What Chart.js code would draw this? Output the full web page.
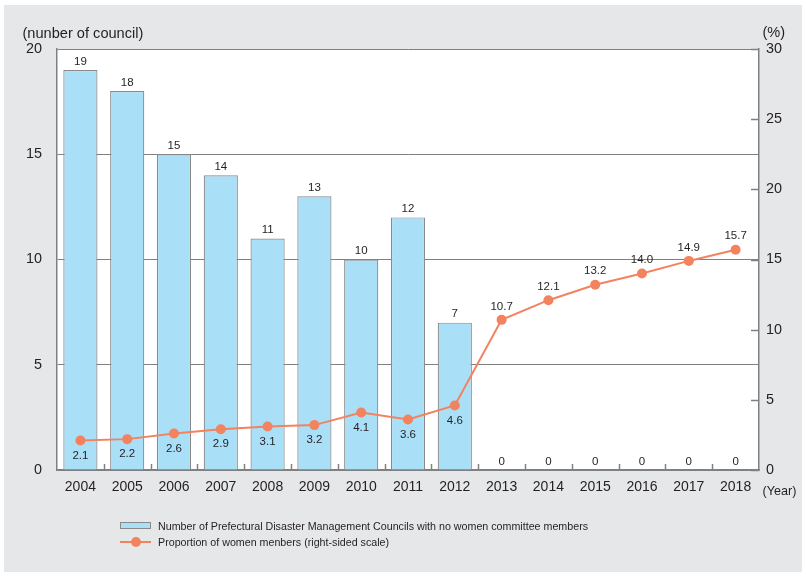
<!DOCTYPE html>
<html>
<head>
<meta charset="utf-8">
<script src="https://cdn.jsdelivr.net/npm/chart.js@4"></script>
<style>
  html, body { margin: 0; padding: 0; background: #ffffff; }
  #frame { position: absolute; left: 4px; top: 5px; width: 798px; height: 567px; background: #e6e7e8; }
  #wrap { position: absolute; left: 0; top: 0; width: 806px; height: 576px; }
  .lg { position: absolute; font-family: "Liberation Sans", Arial, sans-serif; font-size: 10.7px; color: #231f20; white-space: nowrap; line-height: 12px; }
</style>
</head>
<body>
<div id="frame"></div>
<div id="wrap"><canvas id="c" width="806" height="576"></canvas></div>
<div style="position:absolute;left:120px;top:522px;width:29px;height:5px;background:#aadff8;border:1px solid #8a8a8a;"></div>
<div class="lg" style="left:158px;top:520px;">Number of Prefectural Disaster Management Councils with no women committee members</div>
<div style="position:absolute;left:120px;top:541px;width:31px;height:2px;background:#f3825f;"></div>
<div style="position:absolute;left:131px;top:537px;width:10px;height:10px;border-radius:50%;background:#f3825f;"></div>
<div class="lg" style="left:158px;top:536px;">Proportion of women menbers (right-sided scale)</div>
<script>
const years = ['2004','2005','2006','2007','2008','2009','2010','2011','2012','2013','2014','2015','2016','2017','2018'];
const councils = [19, 18, 15, 14, 11, 13, 10, 12, 7, 0, 0, 0, 0, 0, 0];
const proportion = [2.1, 2.2, 2.6, 2.9, 3.1, 3.2, 4.1, 3.6, 4.6, 10.7, 12.1, 13.2, 14.0, 14.9, 15.7];
const leftTicks = [0, 5, 10, 15, 20];
const rightTicks = [0, 5, 10, 15, 20, 25, 30];

const FONT = '"Liberation Sans", Arial, sans-serif';
const TXT = '#231f20';
const AXIS = '#808080';
const BARFILL = '#aadff8';
const BARLINE = '#8a8a8a';
const LINEC = '#f3825f';

const extras = {
  id: 'extras',
  beforeDraw(chart) {
    const ctx = chart.ctx;
    const a = chart.chartArea;
    ctx.save();
    ctx.fillStyle = '#ffffff';
    ctx.fillRect(a.left, a.top, a.right - a.left, a.bottom - a.top);
    ctx.restore();
  },
  beforeDatasetsDraw(chart) {
    const ctx = chart.ctx;
    const a = chart.chartArea;
    const x = chart.scales.x;
    ctx.save();
    ctx.strokeStyle = AXIS;
    ctx.lineWidth = 1.5;
    for (let i = 0; i < years.length - 1; i++) {
      const px = Math.round((x.getPixelForValue(i) + x.getPixelForValue(i + 1)) / 2) + 0.5;
      ctx.beginPath(); ctx.moveTo(px, a.bottom); ctx.lineTo(px, a.bottom - 6); ctx.stroke();
    }
    const y1 = chart.scales.y1;
    rightTicks.forEach(v => {
      const py = Math.round(y1.getPixelForValue(v)) + 0.5;
      ctx.beginPath(); ctx.moveTo(a.right - 8, py); ctx.lineTo(a.right, py); ctx.stroke();
    });
    ctx.restore();
  },
  afterDatasetsDraw(chart) {
    const ctx = chart.ctx;
    ctx.save();
    ctx.fillStyle = TXT;
    ctx.textAlign = 'center';
    ctx.textBaseline = 'middle';
    ctx.font = '11.5px ' + FONT;
    const mb = chart.getDatasetMeta(0);
    mb.data.forEach((el, i) => {
      ctx.fillText(String(councils[i]), el.x, el.y - 8.5);
    });
    const ml = chart.getDatasetMeta(1);
    ml.data.forEach((el, i) => {
      const t = proportion[i].toFixed(1);
      if (councils[i] > 0) ctx.fillText(t, el.x, el.y + 15);
      else ctx.fillText(t, el.x, el.y - 13.5);
    });
    ctx.textAlign = 'left';
    ctx.font = '14.6px ' + FONT;
    ctx.fillText('(nunber of council)', 22.5, 34);
    ctx.fillText('(%)', 762.5, 33);
    ctx.font = '12.6px ' + FONT;
    ctx.fillText('(Year)', 762.5, 492);
    ctx.restore();
  }
};

new Chart(document.getElementById('c'), {
  data: {
    labels: years,
    datasets: [
      {
        type: 'bar',
        label: 'Number of Prefectural Disaster Management Councils with no women committee members',
        data: councils,
        yAxisID: 'y',
        backgroundColor: BARFILL,
        borderColor: BARLINE,
        borderWidth: 1.2,
        barPercentage: 0.73,
        categoryPercentage: 1.0,
        order: 2
      },
      {
        type: 'line',
        label: 'Proportion of women menbers (right-sided scale)',
        data: proportion,
        yAxisID: 'y1',
        borderColor: LINEC,
        backgroundColor: LINEC,
        borderWidth: 2,
        pointRadius: 5,
        pointBackgroundColor: LINEC,
        pointBorderWidth: 0,
        tension: 0,
        order: 1
      }
    ]
  },
  options: {
    responsive: false,
    animation: false,
    layout: { padding: { top: 49, left: 0, right: 0, bottom: 0 } },
    plugins: { legend: { display: false }, tooltip: { enabled: false } },
    scales: {
      x: {
        offset: true,
        grid: { display: false, drawTicks: false },
        border: { color: AXIS, width: 1.5 },
        ticks: { color: TXT, font: { family: FONT, size: 14 }, padding: 9, maxRotation: 0, autoSkip: false },
        afterFit(s) { s.height = 106; }
      },
      y: {
        position: 'left',
        min: 0, max: 20,
        afterBuildTicks(s) { s.ticks = leftTicks.map(v => ({ value: v })); },
        grid: { color: AXIS, lineWidth: 1, drawTicks: false },
        border: { color: AXIS, width: 1.5 },
        ticks: { color: TXT, font: { family: FONT, size: 14.4 }, padding: 15 },
        afterFit(s) { s.width = 57; }
      },
      y1: {
        position: 'right',
        min: 0, max: 30,
        afterBuildTicks(s) { s.ticks = rightTicks.map(v => ({ value: v })); },
        grid: { drawOnChartArea: false, drawTicks: false },
        border: { color: AXIS, width: 1.5 },
        ticks: { color: TXT, font: { family: FONT, size: 14.4 }, padding: 7 },
        afterFit(s) { s.width = 47; }
      }
    }
  },
  plugins: [extras]
});
</script>
</body>
</html>
